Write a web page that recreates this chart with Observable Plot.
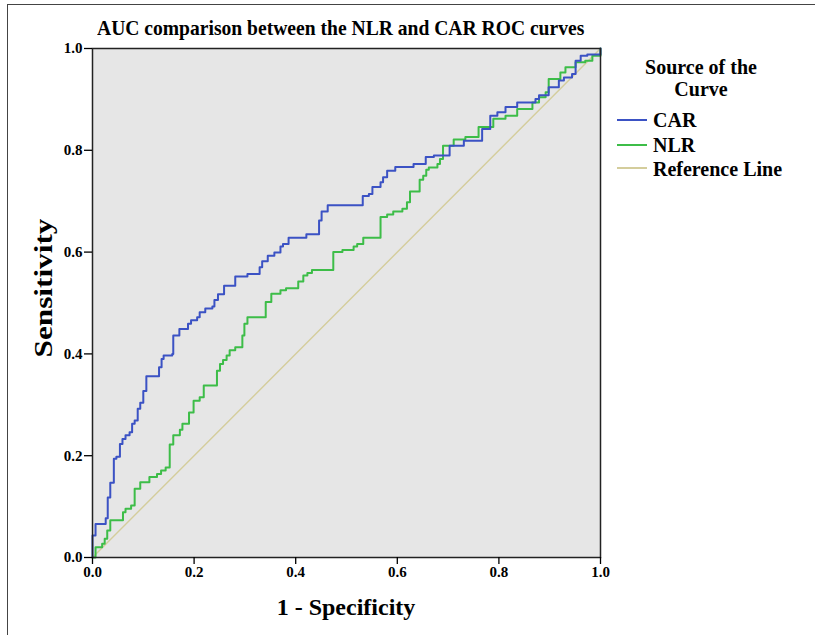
<!DOCTYPE html>
<html>
<head>
<meta charset="utf-8">
<script src="https://cdn.jsdelivr.net/npm/d3@7"></script>
<script src="https://cdn.jsdelivr.net/npm/@observablehq/plot@0.6"></script>
<style>
  html, body { margin: 0; padding: 0; background: #fff; }
  #wrap { position: relative; width: 815px; height: 635px; overflow: hidden; font-family: "Liberation Serif", "DejaVu Serif", serif; font-weight: bold; color: #000; }
  #wrap .t { position: absolute; white-space: nowrap; line-height: 1; }
  #chart svg text { font-size: 15px !important; font-weight: bold; font-family: "Liberation Serif", serif; }
  #border { position: absolute; left: 7px; top: 4px; width: 900px; height: 900px; border-left: 1px solid #444; border-top: 1px solid #444; }
  .lg { position: absolute; height: 1.5px; width: 30px; left: 617px; }
</style>
</head>
<body>
<div id="wrap">
  <div id="chart"></div>
  <div id="border"></div>
</div>
<script>
// ---- data ----
const title = "AUC comparison between the NLR and CAR ROC curves";
const xLabel = "1 - Specificity";
const yLabel = "Sensitivity";
const legendTitle = ["Source of the", "Curve"];
const seriesNames = ["CAR", "NLR", "Reference Line"];
const seriesColors = ["#3b52c4", "#3dbd48", "#d4cd9c"];
const xTicks = [0, 0.2, 0.4, 0.6, 0.8, 1.0];
const yTicks = [0, 0.2, 0.4, 0.6, 0.8, 1.0];

const carFpr = [0, 0, 0.006, 0.026, 0.030, 0.035, 0.042, 0.047, 0.054, 0.059, 0.065, 0.073, 0.078, 0.083, 0.089, 0.094, 0.100, 0.106, 0.131, 0.136, 0.140, 0.157, 0.159, 0.171, 0.188, 0.194, 0.206, 0.211, 0.222, 0.236, 0.240, 0.247, 0.259, 0.281, 0.305, 0.329, 0.334, 0.345, 0.358, 0.370, 0.375, 0.386, 0.421, 0.446, 0.451, 0.463, 0.532, 0.544, 0.551, 0.567, 0.572, 0.580, 0.596, 0.632, 0.656, 0.672, 0.703, 0.731, 0.767, 0.783, 0.797, 0.813, 0.836, 0.872, 0.879, 0.898, 0.918, 0.928, 0.944, 0.951, 0.961, 0.974, 1.0, 1.0];
const carTpr = [0, 0.043, 0.066, 0.077, 0.118, 0.147, 0.194, 0.198, 0.223, 0.233, 0.240, 0.246, 0.263, 0.269, 0.292, 0.304, 0.327, 0.356, 0.374, 0.390, 0.397, 0.400, 0.436, 0.449, 0.459, 0.466, 0.472, 0.482, 0.489, 0.493, 0.506, 0.517, 0.534, 0.552, 0.557, 0.570, 0.582, 0.593, 0.599, 0.611, 0.616, 0.628, 0.635, 0.662, 0.680, 0.692, 0.710, 0.714, 0.728, 0.737, 0.747, 0.760, 0.767, 0.773, 0.787, 0.790, 0.809, 0.819, 0.842, 0.868, 0.875, 0.885, 0.894, 0.901, 0.908, 0.924, 0.937, 0.943, 0.950, 0.976, 0.986, 0.988, 0.989, 1.0];

const nlrFpr = [0, 0.006, 0.019, 0.024, 0.029, 0.035, 0.060, 0.065, 0.076, 0.083, 0.094, 0.112, 0.127, 0.135, 0.144, 0.152, 0.159, 0.172, 0.177, 0.190, 0.199, 0.211, 0.219, 0.245, 0.251, 0.257, 0.264, 0.270, 0.281, 0.295, 0.299, 0.305, 0.341, 0.352, 0.370, 0.381, 0.405, 0.415, 0.423, 0.432, 0.474, 0.492, 0.514, 0.521, 0.533, 0.567, 0.580, 0.592, 0.610, 0.619, 0.625, 0.644, 0.651, 0.657, 0.662, 0.679, 0.684, 0.690, 0.711, 0.734, 0.760, 0.789, 0.813, 0.836, 0.866, 0.879, 0.892, 0.898, 0.921, 0.931, 0.951, 0.970, 0.984, 1.0, 1.0];
const nlrTpr = [0, 0.020, 0.027, 0.037, 0.053, 0.073, 0.089, 0.096, 0.102, 0.135, 0.148, 0.158, 0.164, 0.171, 0.177, 0.222, 0.240, 0.251, 0.263, 0.285, 0.308, 0.315, 0.338, 0.367, 0.380, 0.388, 0.397, 0.407, 0.413, 0.436, 0.459, 0.472, 0.502, 0.518, 0.525, 0.529, 0.542, 0.554, 0.559, 0.565, 0.600, 0.604, 0.611, 0.616, 0.628, 0.669, 0.674, 0.680, 0.685, 0.698, 0.719, 0.742, 0.750, 0.762, 0.766, 0.773, 0.783, 0.809, 0.821, 0.826, 0.846, 0.862, 0.868, 0.881, 0.894, 0.904, 0.914, 0.940, 0.953, 0.963, 0.973, 0.976, 0.986, 0.996, 1.0];

const refFpr = [0, 1];
const refTpr = [0, 1];

// ---- build tables ----
const toRows = (xs, ys) => xs.map((x, i) => ({x, y: ys[i]}));
const car = toRows(carFpr, carTpr);
const nlr = toRows(nlrFpr, nlrTpr);
const ref = toRows(refFpr, refTpr);

const chart = Plot.plot({
  width: 815,
  height: 635,
  marginLeft: 92,
  marginRight: 215,
  marginTop: 48,
  marginBottom: 78,
  style: {fontFamily: "'Liberation Serif', serif", fontWeight: "bold", fontSize: "15px", background: "#fff", color: "#000"},
  x: {domain: [0, 1], label: null},
  y: {domain: [0, 1], label: null},
  marks: [
    Plot.frame({fill: "#e6e6e6", stroke: null}),
    Plot.line(ref, {x: "x", y: "y", stroke: seriesColors[2], strokeWidth: 1.4}),
    Plot.line(nlr, {x: "x", y: "y", curve: "step-after", stroke: seriesColors[1], strokeWidth: 2}),
    Plot.line(car, {x: "x", y: "y", curve: "step-after", stroke: seriesColors[0], strokeWidth: 2}),
    Plot.frame({stroke: "#222", strokeWidth: 1.5}),
    Plot.axisX({ticks: xTicks, tickFormat: d3.format(".1f"), tickSize: 7, tickPadding: 2, label: null, stroke: "#000", strokeWidth: 1.3}),
    Plot.axisY({ticks: yTicks, tickFormat: d3.format(".1f"), tickSize: 8, tickPadding: 2, label: null, stroke: "#000", strokeWidth: 1.3})
  ]
});
document.getElementById("chart").appendChild(chart);

// ---- texts and legend as overlays ----
const wrap = document.getElementById("wrap");
function addText(txt, css) {
  const d = document.createElement("div");
  d.className = "t";
  d.textContent = txt;
  Object.assign(d.style, css);
  wrap.appendChild(d);
  return d;
}
addText(title, {left: "97px", top: "17px", fontSize: "22px", transform: "scaleX(0.89)", transformOrigin: "0 0"});
addText(xLabel, {left: "346px", top: "595px", fontSize: "24px", transform: "translateX(-50%)"});
addText(yLabel, {left: "0px", top: "0px", fontSize: "25px", transform: "translate(43px, 288px) rotate(-90deg) scale(1.25, 1) translate(-50%, -50%)", transformOrigin: "0 0"});
addText(legendTitle[0], {left: "701px", top: "57px", fontSize: "20px", transform: "translateX(-50%)"});
addText(legendTitle[1], {left: "701px", top: "79px", fontSize: "20px", transform: "translateX(-50%)"});
const itemBaselines = [127, 152, 176];
const itemLines = [119, 144, 167];
seriesNames.forEach((name, i) => {
  const l = document.createElement("div");
  l.className = "lg";
  l.style.top = itemLines[i] + "px";
  l.style.background = seriesColors[i];
  wrap.appendChild(l);
  addText(name, {left: "653px", top: (itemBaselines[i] - 17) + "px", fontSize: "20px"});
});
</script>
</body>
</html>
